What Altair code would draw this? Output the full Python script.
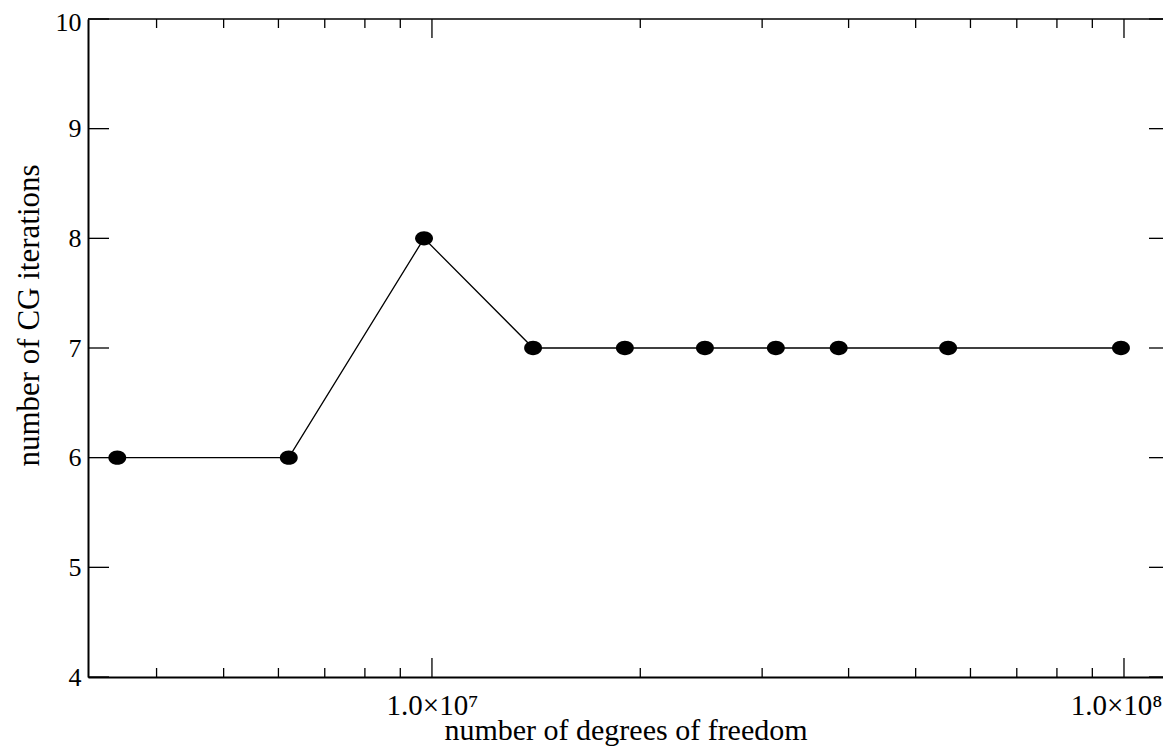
import altair as alt
import pandas as pd

# ---- data ----
dofs = [3.51e6, 6.21e6, 9.74e6, 1.40e7, 1.90e7, 2.48e7, 3.14e7, 3.87e7, 5.57e7, 9.90e7]
iters = [6, 6, 8, 7, 7, 7, 7, 7, 7, 7]

x_major = [1e7, 1e8]
x_minor = [4e6, 5e6, 6e6, 7e6, 8e6, 9e6, 2e7, 3e7, 4e7, 5e7, 6e7, 7e7, 8e7, 9e7]
y_ticks = [4, 5, 6, 7, 8, 9, 10]
x_domain = [3.184e6, 1.1386e8]
y_domain = [4, 10]

W, H = 1075, 658
FONT = "Liberation Serif"
MAJ, MIN = 19, 9

xs = alt.Scale(type="log", domain=x_domain, nice=False)
ys = alt.Scale(domain=y_domain, nice=False, zero=False)

df = pd.DataFrame({"dof": dofs, "it": iters})
df_xmaj = pd.DataFrame({"dof": x_major})
df_xmin = pd.DataFrame({"dof": x_minor})
df_y = pd.DataFrame({"it": y_ticks})

x_axis = alt.Axis(
    values=x_major,
    labelExpr="'1.0×10' + (round(log(datum.value)/LN10) == 7 ? '⁷' : '⁸')",
    labelOffset=alt.condition("datum.value > 5e7", alt.value(-8), alt.value(0)),
    ticks=False, grid=False, domain=True, domainColor="black", domainWidth=2,
    labelFont=FONT, labelFontSize=29, labelColor="black", labelPadding=14,
    title="number of degrees of freedom", titleFont=FONT, titleFontSize=30,
    titleFontWeight="normal", titleColor="black", titleY=62, titleBaseline="alphabetic",
)
y_axis = alt.Axis(
    values=y_ticks, format="d",
    labelOffset=alt.condition("datum.value >= 10", alt.value(3), alt.value(0)),
    ticks=False, grid=False, domain=True, domainColor="black", domainWidth=2,
    labelFont=FONT, labelFontSize=26, labelColor="black", labelPadding=7,
    title="number of CG iterations", titleFont=FONT, titleFontSize=31,
    titleFontWeight="normal", titleColor="black",
    titleX=-50, titleY=296, titleBaseline="alphabetic", titleAlign="center", titleAngle=270,
)

X = alt.X("dof:Q", scale=xs, axis=x_axis)
Y = alt.Y("it:Q", scale=ys, axis=y_axis)

base = alt.Chart(df)
line = base.mark_line(color="black", strokeWidth=1.3).encode(x=X, y=Y)
ellipse = "M-1,0A1,0.8,0,1,0,1,0A1,0.8,0,1,0,-1,0Z"
pts = base.mark_point(shape=ellipse, filled=True, color="black", opacity=1, size=320).encode(x=X, y=Y)

tick_style = dict(color="black", strokeWidth=1.3)

def xticks(data, length):
    bottom = alt.Chart(data).mark_rule(**tick_style).encode(
        x=X, y=alt.value(H - length), y2=alt.value(H),
    )
    top = alt.Chart(data).mark_rule(**tick_style).encode(
        x=X, y=alt.value(0), y2=alt.value(length),
    )
    return bottom + top

yl = alt.Chart(df_y).mark_rule(**tick_style).encode(
    y=Y, x=alt.value(0), x2=alt.value(21),
)
yr = alt.Chart(df_y).mark_rule(**tick_style).encode(
    y=Y, x=alt.value(W - 14), x2=alt.value(W),
)
topline = alt.Chart(df_y.head(1)).mark_rule(color="black", strokeWidth=1.6).encode(
    x=alt.value(0), x2=alt.value(W), y=alt.value(0),
)

chart = alt.layer(
    line, pts, xticks(df_xmaj, MAJ), xticks(df_xmin, MIN), yl, yr, topline
).properties(
    width=W, height=H,
    padding={"left": 80, "top": 11, "right": 0, "bottom": 73},
    autosize=alt.AutoSizeParams(type="none"),
    background="white",
).configure_view(stroke=None)

chart.save("out.html", embed_options={"renderer": "svg", "actions": False})
